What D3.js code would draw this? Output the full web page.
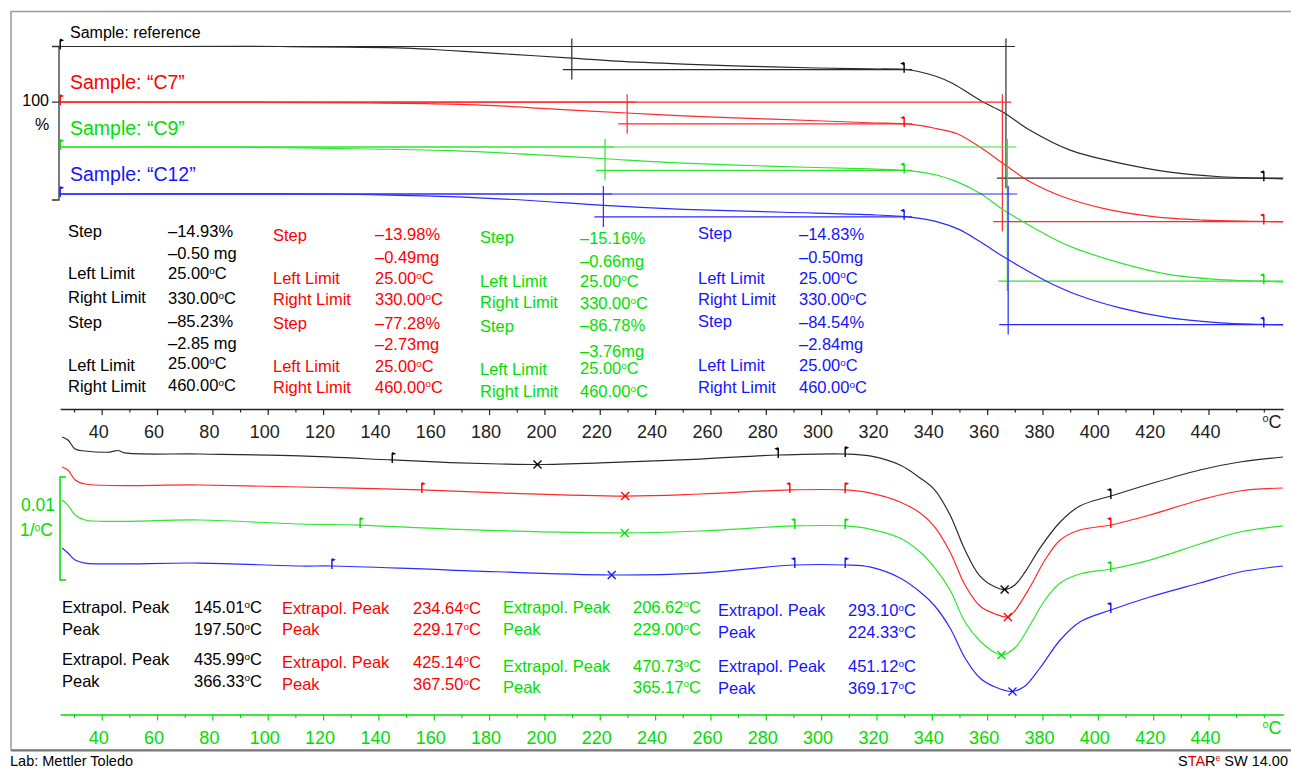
<!DOCTYPE html>
<html>
<head>
<meta charset="utf-8">
<script src="https://cdn.jsdelivr.net/npm/d3@7"></script>
<style>
  body { margin: 0; background: #fff; }
  svg { display: block; font-family: "Liberation Sans", Arial, sans-serif; }
</style>
</head>
<body>
<svg id="chart" width="1291" height="770"></svg>
<script>
// ---------------- data ----------------
// temperature axis ticks (°C)
const majorTicks = [40, 60, 80, 100, 120, 140, 160, 180, 200, 220, 240, 260, 280, 300, 320, 340, 360, 380, 400, 420, 440];
const minorTicks = [30, 50, 70, 90, 110, 130, 150, 170, 190, 210, 230, 250, 270, 290, 310, 330, 350, 370, 390, 410, 430, 450, 460];

// TGA curves: [temperature °C, mass %]
const tgaReference = [[25.7,100],[60.2,100],[104.4,100],[149.6,99.0],[165.9,97.4],[183.9,95.4],[209.9,92.5],[226.2,90.5],[250.2,88.6],[274.3,87.2],[298.4,86.1],[317.6,85.5],[332.1,84.8],[341.7,80.6],[347.6,76.1],[357.4,65.2],[365.8,57.4],[375.5,45.8],[390.0,32.9],[408.0,24.5],[426.0,18.7],[444.2,15.7],[458.6,14.8],[466.9,14.3]];
const tgaC7 = [[25.7,100],[91.8,99.9],[135.9,99.6],[165.9,98.8],[183.9,97.6],[202.0,95.7],[229.9,93.0],[250.2,91.2],[274.3,89.5],[298.4,88.0],[317.6,86.7],[332.1,85.8],[341.7,82.9],[349.0,79.7],[357.4,71.0],[365.8,60.3],[375.5,48.5],[387.4,38.8],[401.9,31.3],[420.0,25.9],[438.0,23.7],[458.6,22.9],[466.9,22.5]];
const tgaC9 = [[25.7,100],[82.8,100],[122.5,99.1],[165.9,97.6],[194.8,95.2],[221.9,92.4],[250.2,89.6],[286.4,87.3],[317.6,85.8],[332.1,84.6],[341.7,81.9],[349.0,77.6],[357.4,70.1],[365.8,59.4],[371.8,52.9],[380.2,44.3],[390.0,35.7],[408.0,25.0],[426.0,17.4],[444.2,14.2],[458.6,13.2],[466.9,12.6]];
const tgaC12 = [[25.7,100],[118.9,100],[140.6,99.4],[165.9,98.3],[194.8,95.8],[221.3,92.6],[250.2,90.1],[286.4,88.2],[317.6,86.6],[332.1,85.0],[341.7,82.1],[350.2,76.8],[357.4,69.2],[365.8,59.5],[371.8,53.1],[381.6,43.4],[392.5,34.8],[408.0,26.3],[426.0,19.8],[444.2,16.6],[458.6,15.6],[466.9,15.2]];

// TGA step evaluations: [left limit °C, right limit °C, step %, step midpoint °C]
const stepsReference = [[25, 330, -14.93, 209.9], [25, 460, -85.23, 366.8]];
const stepsC7        = [[25, 330, -13.98, 229.9], [25, 460, -77.28, 365.5]];
const stepsC9        = [[25, 330, -15.16, 221.9], [25, 460, -86.78, 367.3]];
const stepsC12       = [[25, 330, -14.83, 221.3], [25, 460, -84.54, 367.6]];
// step mass losses (mg)
const massReference = [-0.50, -2.85];
const massC7        = [-0.49, -2.73];
const massC9        = [-0.66, -3.76];
const massC12       = [-0.50, -2.84];

// DTG curves: [temperature °C, rate in 10^-3 1/°C]
const dtgReference = [[25.7,0],[27.8,-0.29],[30.4,-1.17],[34.0,-1.36],[43.0,-1.46],[45.9,-1.31],[48.4,-1.55],[75.5,-1.65],[111.7,-1.84],[145.01,-2.23],[165.9,-2.48],[183.9,-2.62],[197.5,-2.67],[220.1,-2.52],[256.3,-2.14],[284.5,-1.75],[308.7,-1.65],[317.6,-1.84],[328.5,-2.72],[335.8,-3.98],[341.1,-5.15],[346.6,-7.57],[352.0,-10.97],[357.4,-13.50],[362.9,-14.56],[366.33,-14.81],[370.0,-14.37],[373.7,-13.11],[379.1,-10.78],[386.4,-8.25],[393.5,-6.70],[404.7,-5.73],[418.8,-4.56],[436.9,-3.20],[451.3,-2.43],[466.9,-1.94]];
const dtgC7 = [[25.7,0],[27.8,-0.29],[30.4,-1.26],[34.0,-1.65],[75.5,-1.75],[111.7,-1.94],[155.7,-2.23],[183.9,-2.52],[229.17,-2.82],[256.3,-2.62],[288.7,-2.23],[308.7,-2.23],[317.6,-2.52],[328.5,-3.40],[335.8,-4.47],[341.1,-5.83],[346.6,-8.25],[352.0,-11.46],[357.4,-13.50],[362.9,-14.27],[367.5,-14.56],[370.0,-13.98],[375.5,-11.65],[380.9,-9.03],[386.4,-7.09],[393.5,-6.12],[404.7,-5.63],[418.8,-4.66],[436.9,-3.20],[451.3,-2.33],[466.9,-2.04]];
const dtgC9 = [[25.7,0],[27.8,-0.49],[30.4,-1.46],[34.0,-1.94],[75.5,-1.94],[111.7,-2.33],[133.4,-2.43],[165.9,-2.82],[229.0,-3.20],[256.3,-3.01],[290.5,-2.52],[308.7,-2.52],[317.6,-2.82],[328.5,-3.69],[335.8,-5.05],[341.1,-6.60],[346.6,-8.74],[352.0,-11.84],[357.4,-13.69],[362.1,-14.70],[365.17,-15.05],[370.0,-14.37],[375.5,-12.14],[380.9,-9.71],[386.4,-8.06],[393.5,-7.18],[404.7,-6.70],[418.8,-5.83],[436.9,-4.27],[451.3,-3.11],[466.9,-2.52]];
const dtgC12 = [[25.7,0],[27.8,-0.49],[30.4,-1.17],[34.0,-1.46],[75.5,-1.46],[111.7,-1.75],[123.2,-1.75],[165.9,-2.14],[224.33,-2.62],[256.3,-2.43],[290.5,-1.65],[308.7,-1.65],[317.6,-1.84],[328.5,-2.91],[335.8,-4.27],[341.1,-5.63],[346.6,-7.77],[352.0,-10.68],[357.4,-12.62],[362.9,-13.50],[369.17,-13.93],[373.7,-13.40],[379.1,-11.65],[386.4,-8.93],[393.5,-7.18],[404.7,-6.02],[418.8,-4.76],[436.9,-3.40],[451.3,-2.33],[466.9,-1.75]];

// DTG integration limit flags (°C)
const flagsReference = [145.01, 284.5, 308.7, 404.7];
const flagsC7        = [155.7, 288.7, 308.7, 404.7];
const flagsC9        = [133.4, 290.5, 308.7, 404.7];
const flagsC12       = [123.2, 290.5, 308.7, 404.7];
// DTG peak evaluations (°C)
const extrapolReference = [145.01, 435.99];
const extrapolC7        = [234.64, 425.14];
const extrapolC9        = [206.62, 470.73];
const extrapolC12       = [293.10, 451.12];
const peakReference = [197.50, 366.33];
const peakC7        = [229.17, 367.50];
const peakC9        = [229.00, 365.17];
const peakC12       = [224.33, 369.17];

const sampleNames = ['Sample: reference', 'Sample: \u201CC7\u201D', 'Sample: \u201CC9\u201D', 'Sample: \u201CC12\u201D'];

// ---------------- layout ----------------
const svg = d3.select('#chart');
const FONT = '"Liberation Sans", Arial, sans-serif';
const TAB_FS = 16.5;

const x = d3.scaleLinear().domain([25, 467]).range([60.2, 1283.2]);
const tgaY = d3.scaleLinear().domain([100, 0]).range([0, 154.5]);   // offset below each curve's 100 % level
const dtgY = d3.scaleLinear().domain([0, -10]).range([0, 103]);     // 10^-3 1/°C

const samples = [
  { name: sampleNames[0], tga: tgaReference, steps: stepsReference, mass: massReference, mgSep: ' ',
    dtg: dtgReference, flags: flagsReference, extrapol: extrapolReference, peaks: peakReference,
    text: '#000', line: '#2b2b2b', tgaTop: 46.5, dtgTop: 437, nameY: 32.5, nameSize: 16,
    tab: { lx: 68, vx: 168, ty: [[230.7,230.7],[null,253.3],[273.3,273.3],[296.7,298.3],[321.7,321],[null,342.7],[365,363.3],[385.7,385]] },
    dtab: { lx: 62, vx: 194, ty: [607.3, 629, 659, 680.7] } },
  { name: sampleNames[1], tga: tgaC7, steps: stepsC7, mass: massC7, mgSep: '',
    dtg: dtgC7, flags: flagsC7, extrapol: extrapolC7, peaks: peakC7,
    text: '#ff0000', line: '#ff2a2a', tgaTop: 102.2, dtgTop: 467, nameY: 81.5, nameSize: 19.5,
    tab: { lx: 273, vx: 375, ty: [[235,234],[null,257.3],[278.3,278.3],[299.3,299.3],[322.7,323.3],[null,344.3],[366,366],[386.7,386.7]] },
    dtab: { lx: 282, vx: 413, ty: [608.3, 629, 661.7, 684] } },
  { name: sampleNames[2], tga: tgaC9, steps: stepsC9, mass: massC9, mgSep: '',
    dtg: dtgC9, flags: flagsC9, extrapol: extrapolC9, peaks: peakC9,
    text: '#00e000', line: '#2ee62e', tgaTop: 147, dtgTop: 500, nameY: 127.7, nameSize: 19.5,
    tab: { lx: 480, vx: 580, ty: [[236.7,238.3],[null,260.7],[280.7,280.7],[302.3,303.3],[325.7,325],[null,350.7],[369.3,368.3],[391,391]] },
    dtab: { lx: 503, vx: 633, ty: [606.7, 629, 666, 686.7] } },
  { name: sampleNames[3], tga: tgaC12, steps: stepsC12, mass: massC12, mgSep: '',
    dtg: dtgC12, flags: flagsC12, extrapol: extrapolC12, peaks: peakC12,
    text: '#1414ff', line: '#2a2aff', tgaTop: 194, dtgTop: 548, nameY: 174, nameSize: 19.5,
    tab: { lx: 698, vx: 799, ty: [[233.3,234],[null,256.7],[277.7,277.7],[299,299.3],[321,321.7],[null,344],[365,365],[387.3,387.3]] },
    dtab: { lx: 718, vx: 848, ty: [610, 631.7, 666, 688.3] } }
];

// linear interpolation along a [T, value] series
function interp(data, t) {
  const i = d3.bisector(d => d[0]).left(data, t);
  if (i <= 0) return data[0][1];
  if (i >= data.length) return data[data.length - 1][1];
  const a = data[i - 1], b = data[i];
  return a[1] + (b[1] - a[1]) * (t - a[0]) / (b[0] - a[0]);
}

// text with a temperature value and raised small "o" before C
function tempText(sel, str, fs) {
  sel.append('tspan').text(str);
  sel.append('tspan').attr('font-size', fs * 0.6).attr('dy', -fs * 0.32).text('o');
  sel.append('tspan').attr('dy', fs * 0.32).text('C');
}

function label(g, px, py, fs, color, anchor) {
  return g.append('text').attr('x', px).attr('y', py).attr('dy', '0.36em')
    .attr('font-size', fs).attr('fill', color).attr('text-anchor', anchor || 'start');
}

function flag(g, px, py, dir, color) {
  g.append('line').attr('x1', px).attr('x2', px).attr('y1', py - 7).attr('y2', py + 3)
    .attr('stroke', color).attr('stroke-width', 1.4);
  g.append('path').attr('d', `M${px},${py - 8}L${px + dir * 4},${py - 6.3}L${px},${py - 4.6}Z`)
    .attr('fill', color);
}

function cross(g, px, py, color) {
  g.append('path').attr('d', `M${px - 4},${py - 4}L${px + 4},${py + 4}M${px - 4},${py + 4}L${px + 4},${py - 4}`)
    .attr('stroke', color).attr('stroke-width', 1.3).attr('fill', 'none');
}

const fmt2 = v => '\u2013' + Math.abs(v).toFixed(2);

// ---------------- frame and footer ----------------
svg.append('rect').attr('x', 11).attr('y', 11.5).attr('width', 1290).attr('height', 738.5)
  .attr('fill', 'none').attr('stroke', '#9a9a9a').attr('stroke-width', 1.5);
svg.append('line').attr('x1', 11).attr('x2', 1291).attr('y1', 750.5).attr('y2', 750.5)
  .attr('stroke', '#777').attr('stroke-width', 2);

label(svg, 10, 761, 14.5, '#000').text('Lab: Mettler Toledo');
const star = label(svg, 1288, 761, 14.5, '#000', 'end');
star.append('tspan').text('S');
star.append('tspan').attr('fill', '#e00000').text('TA');
star.append('tspan').text('R');
star.append('tspan').attr('fill', '#e00000').attr('font-size', 8.5).attr('dy', -5).text('e');
star.append('tspan').attr('dy', 5).text(' SW 14.00');

// ---------------- TGA block ----------------
const tga = svg.append('g');

// scale bar
tga.append('path')
  .attr('d', `M52,${samples[0].tgaTop}H59V${samples[0].tgaTop + tgaY(0) - 1}H52M52,${samples[1].tgaTop}H59`)
  .attr('fill', 'none').attr('stroke', '#333').attr('stroke-width', 1.3);
label(tga, 49, 100, 16, '#000', 'end').text('100');
label(tga, 42, 124, 16, '#000', 'middle').text('%');

samples.forEach(s => {
  const g = tga.append('g');
  const yT = m => s.tgaTop + tgaY(m);
  const lastStep = s.steps.length - 1;

  s.steps.forEach(([l, r, st, mid], i) => {
    const m0 = interp(s.tga, l);
    const y0 = yT(m0), y1 = yT(m0 + st);
    const ln = (x1, y1_, x2, y2) => g.append('line').attr('x1', x1).attr('y1', y1_).attr('x2', x2).attr('y2', y2)
      .attr('stroke', s.line).attr('stroke-width', 1.2);
    ln(x(l), y0, x(mid) + 9, y0);
    ln(x(mid) - 9, y1, i === lastStep ? x.range()[1] : x(r) + 8, y1);
    ln(x(mid), y0 - 8, x(mid), y1 + 10);
  });

  g.append('path').datum(s.tga)
    .attr('d', d3.line().x(d => x(d[0])).y(d => yT(d[1])).curve(d3.curveCatmullRom))
    .attr('fill', 'none').attr('stroke', s.line).attr('stroke-width', 1.2);

  // evaluation limit flags
  const lims = [s.steps[0][0], ...s.steps.map(d => d[1])];
  lims.forEach((t, i) => flag(g, x(t), yT(interp(s.tga, t)), i === 0 ? 1 : -1, s.text));

  label(g, 70, s.nameY, s.nameSize, s.text).text(s.name);

  // step results table
  const rows = [];
  s.steps.forEach(([l, r, st], i) => {
    rows.push(['Step', fmt2(st) + '%', false]);
    rows.push([null, fmt2(s.mass[i]) + s.mgSep + 'mg', false]);
    rows.push(['Left Limit', l.toFixed(2), true]);
    rows.push(['Right Limit', r.toFixed(2), true]);
  });
  rows.forEach(([lab, val, isT], k) => {
    const [ly, vy] = s.tab.ty[k];
    if (lab) label(g, s.tab.lx, ly, TAB_FS, s.text).text(lab);
    const t = label(g, s.tab.vx, vy, TAB_FS, s.text);
    if (isT) tempText(t, val, TAB_FS); else t.text(val);
  });
});

// ---------------- temperature axes ----------------
function tempAxis(yPos, color) {
  const g = svg.append('g').attr('transform', `translate(0,${yPos})`);
  g.call(d3.axisBottom(x).tickValues(minorTicks).tickSize(3.5).tickSizeOuter(0).tickFormat(''));
  const major = svg.append('g').attr('transform', `translate(0,${yPos})`)
    .call(d3.axisBottom(x).tickValues(majorTicks).tickSize(6).tickSizeOuter(0).tickFormat(d3.format('d')));
  major.select('.domain').remove();
  [g, major].forEach(a => {
    a.selectAll('.domain').attr('stroke', color).attr('stroke-width', 1.4);
    a.selectAll('.tick line').attr('stroke', color).attr('stroke-width', 1.2);
  });
  major.selectAll('.tick text').attr('x', -3.5).attr('y', 23).attr('dy', '0.36em').attr('fill', color)
    .attr('font-size', 18).attr('font-family', FONT);
  const u = label(svg, 1272, yPos + 19, 18, color, 'middle');
  tempText(u, '', 18);
}
tempAxis(409, '#222');
tempAxis(714.5, '#00dd00');

// ---------------- DTG block ----------------
const dtg = svg.append('g');

// 0.01 1/°C scale bar
const barTop = 477;
dtg.append('path')
  .attr('d', `M66,${barTop}H60V${barTop + dtgY(-10)}H66`)
  .attr('fill', 'none').attr('stroke', '#00dd00').attr('stroke-width', 1.5);
label(dtg, 55, 505, 17.5, '#00dd00', 'end').text('0.01');
const unit = label(dtg, 53, 530, 17.5, '#00dd00', 'end');
unit.append('tspan').text('1/');
unit.append('tspan').attr('font-size', 10.5).attr('dy', -5.6).text('o');
unit.append('tspan').attr('dy', 5.6).text('C');

samples.forEach(s => {
  const g = dtg.append('g');
  const yD = v => s.dtgTop + dtgY(v);
  g.append('path').datum(s.dtg)
    .attr('d', d3.line().x(d => x(d[0])).y(d => yD(d[1])).curve(d3.curveCatmullRom))
    .attr('fill', 'none').attr('stroke', s.line).attr('stroke-width', 1.2);
  s.flags.forEach((t, i) => flag(g, x(t), yD(interp(s.dtg, t)), i % 2 === 0 ? 1 : -1, s.text));
  s.peaks.forEach(t => cross(g, x(t), yD(interp(s.dtg, t)), s.text));

  // peak results table
  const rows = [];
  s.extrapol.forEach((e, i) => {
    rows.push(['Extrapol. Peak', e]);
    rows.push(['Peak', s.peaks[i]]);
  });
  rows.forEach(([lab, v], k) => {
    label(g, s.dtab.lx, s.dtab.ty[k], TAB_FS, s.text).text(lab);
    tempText(label(g, s.dtab.vx, s.dtab.ty[k], TAB_FS, s.text), v.toFixed(2), TAB_FS);
  });
});
</script>
</body>
</html>
